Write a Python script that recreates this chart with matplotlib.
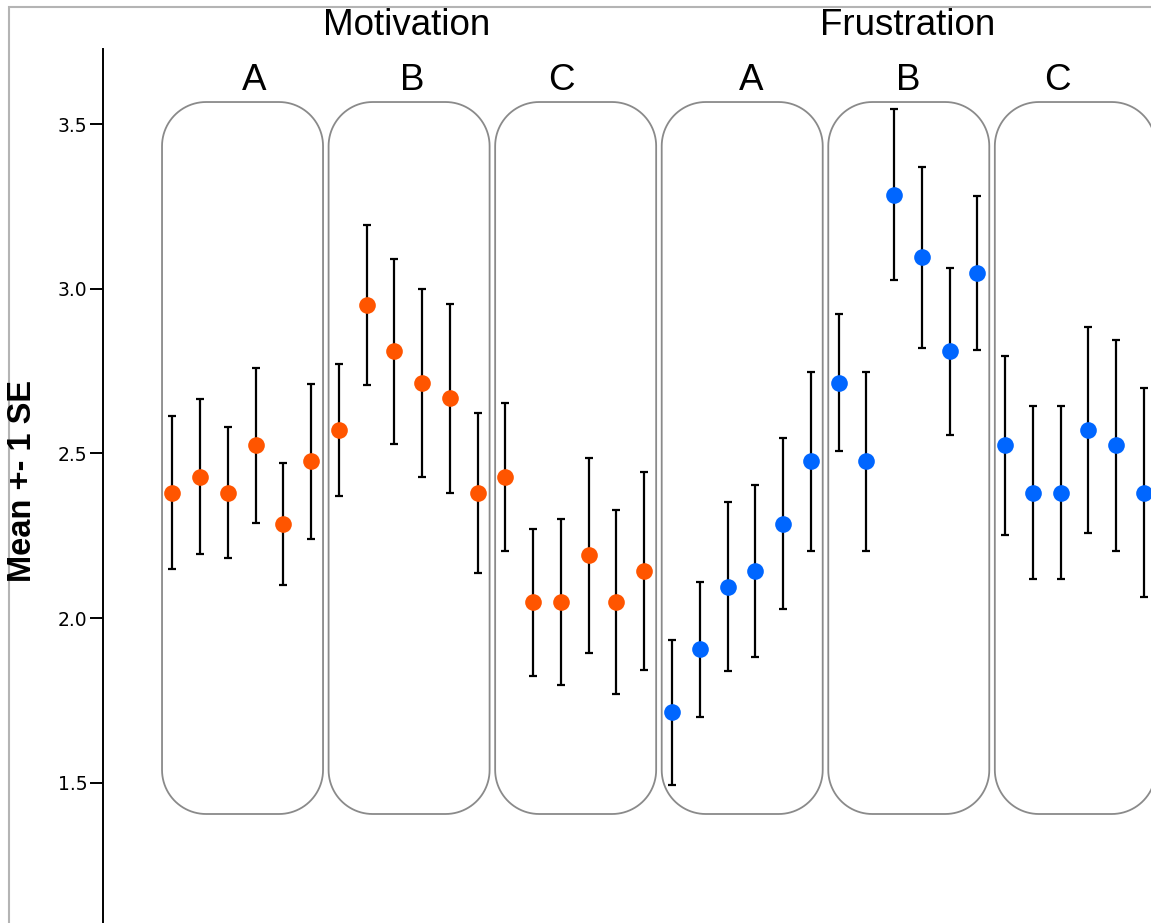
import numpy as np
import matplotlib
matplotlib.use("Agg")
import matplotlib.pyplot as plt
from matplotlib.patches import Polygon, Rectangle

# Means and standard errors, six items per condition
mot_means = [2.381, 2.429, 2.381, 2.524, 2.286, 2.476,
             2.571, 2.952, 2.810, 2.714, 2.667, 2.381,
             2.429, 2.048, 2.048, 2.190, 2.048, 2.143]
mot_se = [0.233, 0.235, 0.200, 0.235, 0.185, 0.236,
          0.200, 0.243, 0.281, 0.286, 0.287, 0.243,
          0.225, 0.223, 0.252, 0.297, 0.280, 0.302]
fru_means = [1.714, 1.905, 2.095, 2.143, 2.286, 2.476,
             2.714, 2.476, 3.286, 3.095, 2.810, 3.048,
             2.524, 2.381, 2.381, 2.571, 2.524, 2.381]
fru_se = [0.220, 0.205, 0.256, 0.260, 0.260, 0.272,
          0.208, 0.272, 0.260, 0.274, 0.254, 0.233,
          0.272, 0.262, 0.262, 0.312, 0.320, 0.318]

conditions = ["A", "B", "C"]
measures = ["Motivation", "Frustration"]
y_ticks = [1.5, 2.0, 2.5, 3.0, 3.5]

plt.rcParams["font.family"] = ["Liberation Sans", "DejaVu Sans"]

W, H = 1151, 923
fig = plt.figure(figsize=(W / 100, H / 100), dpi=100)
ax = fig.add_axes([103.3 / W, 0.0, 1 - 103.3 / W, (H - 49) / H])

x0_px, step_px = 172.3, 27.76
ax.set_xlim((103.3 - x0_px) / step_px, (W - x0_px) / step_px)
ax.set_ylim(1.074, 3.728)

n = 6
colors = {"Motivation": "#ff5500", "Frustration": "#0066ff"}
series = [(mot_means, mot_se, "Motivation"), (fru_means, fru_se, "Frustration")]


def rounded_rect(x0, y0, x1, y1, rx, ry, steps=24):
    """Polygon vertices of a rectangle with elliptical corners."""
    pts = []
    corners = [(x1 - rx, y1 - ry, 0.0), (x0 + rx, y1 - ry, 90.0),
               (x0 + rx, y0 + ry, 180.0), (x1 - rx, y0 + ry, 270.0)]
    for cx, cy, start in corners:
        a = np.radians(np.linspace(start, start + 90.0, steps))
        pts.extend(zip(cx + rx * np.cos(a), cy + ry * np.sin(a)))
    return np.array(pts)


# Rounded panels behind each condition
rx, ry = 1.585, 0.1336
box_lo, box_hi = 1.405, 3.567
for k in range(len(measures) * len(conditions)):
    left = n * k - 0.37
    verts = rounded_rect(left, box_lo, left + 5.80, box_hi, rx, ry)
    ax.add_patch(Polygon(verts, closed=True, facecolor="none",
                         edgecolor="#8a8a8a", linewidth=1.3, zorder=1))

offset = 0
for means, se, name in series:
    xs = list(range(offset, offset + len(means)))
    ax.errorbar(xs, means, yerr=se, fmt="none", ecolor="black",
                elinewidth=1.6, capsize=3.2, capthick=1.6, zorder=2)
    ax.plot(xs, means, "o", color=colors[name], markersize=12,
            markeredgewidth=0, zorder=3)
    offset += len(means)

# Condition and measure headings
cond_x = [2.96, 8.63, 14.0, 20.85, 26.5, 31.9]
for i, xc in enumerate(cond_x):
    ax.text(xc, 3.632, conditions[i % 3], ha="center", va="center",
            fontsize=26.5, clip_on=False)
measure_x = [8.45, 26.5]
for name, xm in zip(measures, measure_x):
    ax.text(xm, 3.800, name, ha="center", va="center", fontsize=26.5,
            clip_on=False)

# Axis styling
for s in ["top", "right", "bottom"]:
    ax.spines[s].set_visible(False)
ax.spines["left"].set_linewidth(1.4)
ax.set_xticks([])
ax.set_yticks(y_ticks)
ax.set_yticklabels([f"{t:.1f}" for t in y_ticks], family="DejaVu Sans")
ax.tick_params(axis="y", direction="out", length=9.5, width=1.4,
               labelsize=13.5, pad=2)
ax.set_facecolor("none")

fig.text(22.5 / W, 1 - 481 / H, "Mean +- 1 SE", rotation=90,
         ha="center", va="center", fontsize=23.5, fontweight="bold")

# Light frame around the figure
frame = Rectangle((9 / W, -0.1), 1.2, 1 - 7 / H + 0.1,
                  transform=fig.transFigure, fill=False,
                  edgecolor="#b4b4b4", linewidth=1.5)
fig.add_artist(frame)

fig.savefig("out.png", dpi=100)
